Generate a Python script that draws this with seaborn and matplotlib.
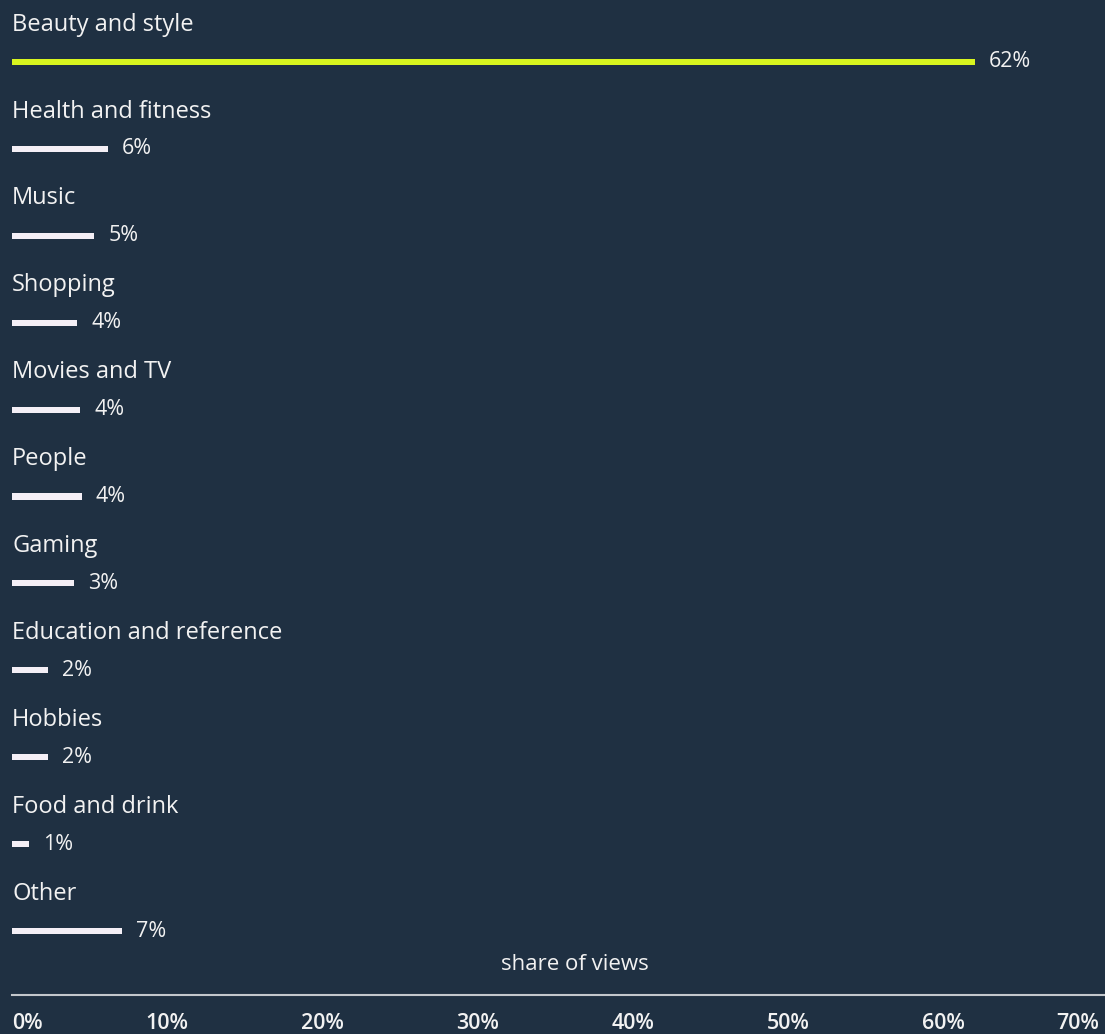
import pandas as pd
import numpy as np
import matplotlib.pyplot as plt
import seaborn as sns

categories = ["Beauty and style", "Health and fitness", "Music", "Shopping", "Movies and TV",
              "People", "Gaming", "Education and reference", "Hobbies", "Food and drink", "Other"]
shares = [62.0, 6.2, 5.3, 4.2, 4.4, 4.5, 4.0, 2.3, 2.3, 1.1, 7.1]
share_labels = ["62%", "6%", "5%", "4%", "4%", "4%", "3%", "2%", "2%", "1%", "7%"]
tick_values = [0, 10, 20, 30, 40, 50, 60, 70]
tick_labels = ["0%", "10%", "20%", "30%", "40%", "50%", "60%", "70%"]

bg = "#1f3042"
lime = "#d8f51f"
bar_white = "#f4eff6"
text_col = "#f2f2f2"

sns.set_theme(style="white")
plt.rcParams["font.family"] = ["Open Sans", "DejaVu Sans"]

data = pd.DataFrame({"category": categories, "share": shares})

fig = plt.figure(figsize=(11.05, 10.34), dpi=100, facecolor=bg)
ax = fig.add_axes([12 / 1105, 39 / 1034, 1 - 12 / 1105, 1 - 39 / 1034])
ax.set_facecolor(bg)

palette = [lime] + [bar_white] * (len(categories) - 1)
sns.barplot(data=data, x="share", y="category", hue="category", palette=palette,
            orient="h", width=0.07, legend=False, ax=ax, saturation=1, linewidth=0)

ax.set_xlim(0, 70.4)
ax.set_ylim(10.736, -0.713)

for i, (cat, val, lab) in enumerate(zip(categories, shares, share_labels)):
    ax.text(0, i - 0.43, cat, color=text_col, fontsize=17, va="center", ha="left")
    ax.text(val + 0.9, i, lab, color=text_col, fontsize=15.5, va="center", ha="left")

ax.set_yticks([])
ax.set_ylabel("")
ax.set_xlabel("")
ax.set_xticks(tick_values)
ax.set_xticklabels(tick_labels, color=text_col, fontsize=15.5, fontweight="semibold")
ax.tick_params(axis="x", length=0, pad=13)
tl = ax.get_xticklabels()
tl[0].set_ha("left")
tl[-1].set_ha("right")

for s in ["top", "right", "left"]:
    ax.spines[s].set_visible(False)
ax.spines["bottom"].set_color("#c3c7cc")
ax.spines["bottom"].set_linewidth(1.5)

fig.text(575 / 1105, 1 - 965 / 1034, "share of views", color=text_col, fontsize=16,
         ha="center", va="center")

fig.savefig("out.png", dpi=100, facecolor=bg)
